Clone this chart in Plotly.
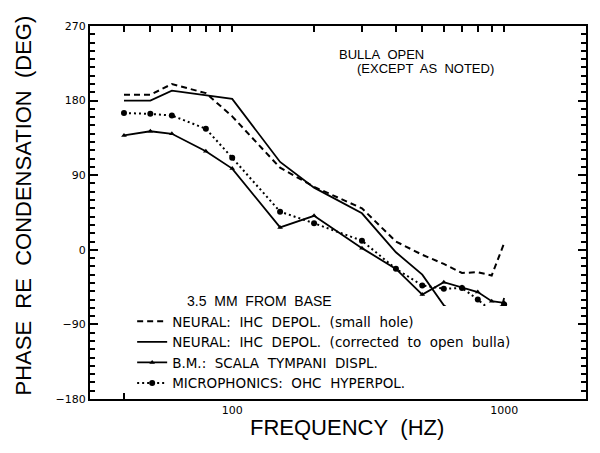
import plotly.graph_objects as go
from plotly.subplots import make_subplots

freq = [40, 50, 60, 80, 100, 150, 200, 300, 400, 500, 600, 700, 800, 900, 1000]
neural_small_hole = [187, 187, 200, 189, 161, 99, 76, 50, 10, -6, -17, -28, -27, -31, 8]
neural_corrected = [180, 180, 192, 186, 182, 106, 75, 44, -3, -30, -67, -83, -88, -111, -58]
bm_scala_tympani = [138, 143, 140, 119, 98, 27, 41, 2, -23, -54, -39, -45, -51, -62, -64]
microphonics = [165, 164, 162, 146, 111, 46, 32, 11, -23, -43, -47, -46, -60, -74, -66]

x_tickvals = [40, 50, 60, 70, 80, 90, 100, 200, 300, 400, 500, 600, 700, 800, 900, 1000]
x_ticktext = ["", "", "", "", "", "", "100", "", "", "", "", "", "", "", "", "1000"]

names = [
    "NEURAL:\u00a0 IHC\u00a0 DEPOL.\u00a0 (small\u00a0 hole)",
    "NEURAL:\u00a0 IHC\u00a0 DEPOL.\u00a0 (corrected\u00a0 to\u00a0 open\u00a0 bulla)",
    "B.M.:\u00a0 SCALA\u00a0 TYMPANI\u00a0 DISPL.",
    "MICROPHONICS:\u00a0 OHC\u00a0 HYPERPOL.",
]

fig = make_subplots(rows=1, cols=1)
fig.add_trace(go.Scatter(x=freq, y=neural_small_hole, mode="lines", name=names[0],
                         line=dict(color="black", width=2, dash="6px,4px")))
fig.add_trace(go.Scatter(x=freq, y=neural_corrected, mode="lines", name=names[1],
                         line=dict(color="black", width=1.8)))
fig.add_trace(go.Scatter(x=freq, y=bm_scala_tympani, mode="lines+markers", name=names[2],
                         line=dict(color="black", width=1.8),
                         marker=dict(symbol="triangle-up", size=5, color="black")))
fig.add_trace(go.Scatter(x=freq, y=microphonics, mode="lines+markers", name=names[3],
                         line=dict(color="black", width=2, dash="2px,3px"),
                         marker=dict(symbol="circle", size=6, color="black")))

titlefont = dict(family="Liberation Sans, Arial, sans-serif", size=22, color="black")
annfont = dict(family="Liberation Sans, Arial", size=13, color="black")

fig.update_layout(
    width=592, height=445,
    margin=dict(l=82, r=13, t=15, b=54),
    plot_bgcolor="white",
    showlegend=True,
    legend=dict(x=0.085, y=0.0, xanchor="left", yanchor="bottom",
                font=dict(family="DejaVu Sans", size=13.5, color="black")),
    annotations=[
        dict(text="BULLA\u00a0 OPEN", xref="paper", yref="paper", x=0.497, y=0.923,
             xanchor="left", yanchor="middle", showarrow=False, font=annfont),
        dict(text="(EXCEPT\u00a0 AS\u00a0 NOTED)", xref="paper", yref="paper", x=0.535, y=0.886,
             xanchor="left", yanchor="middle", showarrow=False, font=annfont),
        dict(text="3.5\u00a0 MM\u00a0 FROM\u00a0 BASE", xref="paper", yref="paper", x=0.191, y=0.263,
             xanchor="left", yanchor="middle", showarrow=False,
             font=dict(family="Liberation Sans, Arial", size=14, color="black")),
        dict(text="FREQUENCY\u00a0 (HZ)", xref="paper", yref="paper", x=0.519, y=-0.077,
             xanchor="center", yanchor="middle", showarrow=False, font=titlefont),
        dict(text="PHASE\u00a0 RE\u00a0 CONDENSATION\u00a0 (DEG)", xref="paper", yref="paper",
             x=-0.135, y=0.519, xanchor="center", yanchor="middle", textangle=-90,
             showarrow=False, font=titlefont),
    ],
)
fig.update_xaxes(
    type="log", range=[1.4771, 3.3010],
    tickmode="array", tickvals=x_tickvals, ticktext=x_ticktext,
    ticks="inside", ticklen=6, tickwidth=1.5, tickcolor="black",
    showline=True, linecolor="black", linewidth=2, mirror="allticks",
    showgrid=False, layer="above traces",
    tickfont=dict(family="DejaVu Sans", size=11, color="black"),
)
fig.update_yaxes(
    range=[-180, 270], dtick=90,
    ticks="inside", ticklen=8, tickwidth=1.5, tickcolor="black",
    showline=True, linecolor="black", linewidth=2, mirror="allticks",
    showgrid=False, zeroline=False, layer="above traces",
    tickfont=dict(family="DejaVu Sans", size=11, color="black"),
    minor=dict(dtick=10, ticks="inside", ticklen=5, tickcolor="black"),
)

fig.write_html("out.html")
